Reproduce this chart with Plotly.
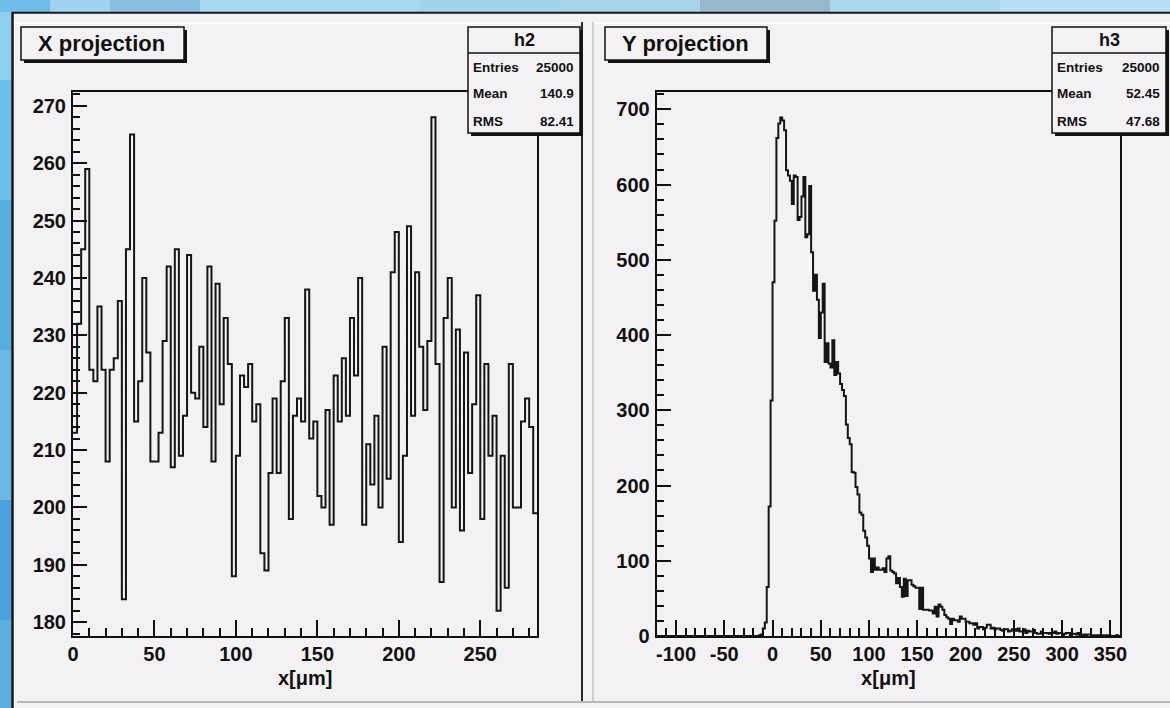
import plotly.graph_objects as go

W, H = 1170, 708

# ---------------- data ----------------
# X projection (h2): 114 bins of 2.5 um from 0 to 285
x_proj_counts = [
    213, 232, 245, 259,
    224, 222, 235, 224, 208, 224, 226, 236, 184, 245, 265, 215, 222, 240, 227, 208,
    208, 213, 229, 242, 207, 245, 209, 216, 244, 220, 219, 228, 214, 242, 208, 239,
    218, 233, 225, 188, 209, 223, 221, 225, 215, 218, 192, 189, 206, 219, 206, 222,
    233, 198, 216, 219, 215, 238, 212, 215,
    202, 200, 217, 197, 223, 215, 226, 216, 233, 223, 240, 197, 211, 204, 216, 200,
    228, 205, 241, 248, 194, 209, 249, 216, 241, 228, 217, 229, 268, 225, 187, 233,
    240, 200, 231, 196, 227, 206, 218, 237, 198, 225, 209, 216, 182, 209, 186, 225,
    200, 200, 215, 219, 214, 199,
]
x_proj_lo, x_proj_hi = 0.0, 285.0

# Y projection (h3): bins of 2 um; first listed bin starts at -14 um
y_proj_first = -14.0
y_proj_width = 2.0
y_proj_counts = [
    1, 2, 10, 18, 65, 172, 313, 470, 552, 662, 681, 689, 685, 672, 619, 612,
    605, 574, 612, 610, 553, 557, 584, 610, 530, 534, 598, 510, 459, 480, 447, 396,
    430, 468, 364, 389, 362, 357, 393, 347, 364, 349, 335, 327, 319, 281, 263, 255,
    218, 217, 198, 188, 164, 161, 140, 131, 120, 103, 85, 103, 88, 91, 88, 88,
    90, 85, 103, 106, 87, 85, 83, 70, 77, 65, 52, 76, 53, 74, 74, 68,
    66, 64, 64, 36, 64, 35, 35, 35, 34, 34, 30, 39, 26, 42, 39, 35,
    28, 25, 23, 16, 23, 21, 21, 19, 26, 23, 23, 19, 19, 17, 17, 15,
    17, 10, 12, 12, 9, 11, 15, 15, 10, 11, 9, 10, 10, 8, 7, 9,
    9, 6, 7, 9, 9, 7, 10, 6, 6, 9, 4, 7, 6, 6, 8, 4,
    3, 3, 6, 4, 4, 4, 3, 4, 4, 6, 3, 4, 4, 1, 3, 4,
    4, 1, 3, 3, 2, 4, 1, 1, 2, 1, 2, 2, 1, 1, 1, 0,
    1, 1, 1, 1, 0, 1, 0, 0, 0, 1, 0,
]
y_axis_lo, y_axis_hi = -120.0, 360.0

left_x_ticks = [0, 50, 100, 150, 200, 250]
left_x_labels = ["0", "50", "100", "150", "200", "250"]
left_y_ticks = [180, 190, 200, 210, 220, 230, 240, 250, 260, 270]
left_y_labels = ["180", "190", "200", "210", "220", "230", "240", "250", "260", "270"]
right_x_ticks = [-100, -50, 0, 50, 100, 150, 200, 250, 300, 350]
right_x_labels = ["-100", "-50", "0", "50", "100", "150", "200", "250", "300", "350"]
right_y_ticks = [0, 100, 200, 300, 400, 500, 600, 700]
right_y_labels = ["0", "100", "200", "300", "400", "500", "600", "700"]

x_title = ["X projection", "Y projection"]
stat_names = ["h2", "h3"]
stats_h2 = [("Entries", "25000"), ("Mean", "140.9"), ("RMS", "82.41")]
stats_h3 = [("Entries", "25000"), ("Mean", "52.45"), ("RMS", "47.68")]
axis_title = "x[μm]"

# ---------------- helpers ----------------
def px(x):
    return x / W

def py(y):
    return 1 - y / H

CANVAS = "#f4f1f4"
FONT = "Liberation Sans"
INK = "#111111"

fig = go.Figure()

# left histogram
n1 = len(x_proj_counts)
w1 = (x_proj_hi - x_proj_lo) / n1
edges1 = [x_proj_lo + i * w1 for i in range(n1 + 1)]
fig.add_trace(go.Scatter(
    x=edges1, y=x_proj_counts + [x_proj_counts[-1]],
    mode="lines", line=dict(shape="hv", color="#151515", width=2),
    xaxis="x", yaxis="y", hoverinfo="skip", showlegend=False))

# right histogram (pad with empty bins to the axis range)
n_lead = int(round((y_proj_first - y_axis_lo) / y_proj_width))
n_total = int(round((y_axis_hi - y_axis_lo) / y_proj_width))
full2 = [0] * n_lead + list(y_proj_counts)
full2 = full2 + [0] * max(0, n_total - len(full2))
edges2 = [y_axis_lo + i * y_proj_width for i in range(len(full2) + 1)]
fig.add_trace(go.Scatter(
    x=edges2, y=full2 + [full2[-1]],
    mode="lines", line=dict(shape="hv", color="#151515", width=2),
    xaxis="x2", yaxis="y2", hoverinfo="skip", showlegend=False))

tickfont = dict(family=FONT, size=20, color=INK, weight="bold")

def xaxis(dom, rng, tv, tt):
    return dict(
        domain=dom, range=rng, tickmode="array", tickvals=tv, ticktext=tt,
        ticks="inside", ticklen=16, tickwidth=1.5, tickcolor=INK,
        minor=dict(dtick=10, tick0=0, ticks="inside", ticklen=8, tickwidth=1.5, tickcolor=INK),
        showline=True, mirror=True, linewidth=2, linecolor=INK,
        showgrid=False, zeroline=False, tickfont=tickfont, ticklabelstandoff=-1,
        title=dict(text=axis_title, font=dict(family=FONT, size=20, color=INK, weight="bold"), standoff=7),
        automargin=False, fixedrange=True)

def yaxis(dom, rng, tv, tt, mdt):
    return dict(
        domain=dom, range=rng, tickmode="array", tickvals=tv, ticktext=tt,
        ticks="inside", ticklen=14, tickwidth=1.5, tickcolor=INK,
        minor=dict(dtick=mdt, tick0=0, ticks="inside", ticklen=7, tickwidth=1.5, tickcolor=INK),
        showline=True, mirror=True, linewidth=2, linecolor=INK,
        showgrid=False, zeroline=False, tickfont=tickfont, ticklabelstandoff=1,
        automargin=False, fixedrange=True)

ydom = [py(636), py(92)]
fig.update_layout(
    xaxis=xaxis([px(73), px(537.3)], [x_proj_lo, x_proj_hi], left_x_ticks, left_x_labels),
    yaxis=yaxis(ydom, [177.6, 272.4], left_y_ticks, left_y_labels, 2),
    xaxis2=xaxis([px(656.7), px(1120)], [y_axis_lo, y_axis_hi], right_x_ticks, right_x_labels),
    yaxis2=yaxis(ydom, [0, 723], right_y_ticks, right_y_labels, 20),
)
fig.layout.xaxis2.anchor = "y2"
fig.layout.yaxis2.anchor = "x2"

shapes = []
def rect(x0, y0, x1, y1, fill, line_color=None, lw=0, layer="above"):
    shapes.append(dict(type="rect", xref="paper", yref="paper",
                       x0=px(x0), x1=px(x1), y0=py(y1), y1=py(y0),
                       fillcolor=fill, layer=layer,
                       line=dict(color=line_color or fill, width=lw)))

def line(x0, y0, x1, y1, color, lw):
    shapes.append(dict(type="line", xref="paper", yref="paper",
                       x0=px(x0), x1=px(x1), y0=py(y0), y1=py(y1),
                       line=dict(color=color, width=lw), layer="above"))

# blue window background strips
top_cols = [(0, 50, "#6fbde8"), (50, 110, "#9fd3ee"), (110, 200, "#86bfdf"),
            (200, 420, "#a9d9f0"), (420, 560, "#a3d3eb"), (560, 700, "#a9d5ea"),
            (700, 830, "#98b9cb"), (830, 1000, "#acd8ee"), (1000, 1170, "#b6e0f4")]
for a, b, c in top_cols:
    rect(a, 0, b, 12, c, layer="below")
left_cols = [(12, 80, "#8dd0ef"), (80, 200, "#6dbde9"), (200, 350, "#58addf"),
             (350, 500, "#6bb8e4"), (500, 620, "#4aa2dc"), (620, 708, "#5aaee0")]
for a, b, c in left_cols:
    rect(0, a, 12, b, c, layer="below")

# canvas borders
line(12.5, 12, 12.5, 708, "#1a1a1a", 2.5)
line(12, 12.8, 1170, 12.8, "#1a1a1a", 2)
line(14, 23, 582, 23, "#ffffff", 1.5)
line(594, 23, 1170, 23, "#ffffff", 1.5)
line(582, 22, 582, 702, "#2a2a2a", 2)
line(593, 22, 593, 702, "#c4c4c4", 1.5)
line(17, 702, 1170, 702, "#b9b9b9", 2)

annotations = []
def text(x, y, s, size, anchor="left"):
    annotations.append(dict(xref="paper", yref="paper", x=px(x), y=py(y), text=s,
                            showarrow=False, xanchor=anchor, yanchor="middle",
                            font=dict(family=FONT, size=size, color=INK, weight="bold")))

# title boxes
for (bx0, bx1), t in zip([(21, 184), (605, 767)], x_title):
    rect(bx0 + 3, 27 + 3, bx1 + 3, 60 + 3, INK)
    rect(bx0, 27, bx1, 60, CANVAS, INK, 1.5)
    text(bx0 + 15, 43.5, t, 22)

# stat boxes
for (bx0, bx1), name, st in zip([(468, 580), (1052, 1166)], stat_names, [stats_h2, stats_h3]):
    rect(bx0 + 3, 27 + 3, bx1 + 3, 133 + 3, INK)
    rect(bx0, 27, bx1, 133, CANVAS, INK, 1.5)
    line(bx0, 53, bx1, 53, INK, 1.5)
    text((bx0 + bx1) / 2, 40, name, 18, "center")
    for k, (lab, val) in enumerate(st):
        yy = 67 + 27 * k
        text(bx0 + 3, yy, lab, 13.5, "left")
        text(bx1 - 4, yy, val, 13.5, "right")

fig.update_layout(
    width=W, height=H, margin=dict(l=0, r=0, t=0, b=0),
    paper_bgcolor=CANVAS, plot_bgcolor=CANVAS,
    shapes=shapes, annotations=annotations, showlegend=False,
)

fig.write_html("out.html", config={"displayModeBar": False},
               post_script="document.body.style.margin='0px';")
